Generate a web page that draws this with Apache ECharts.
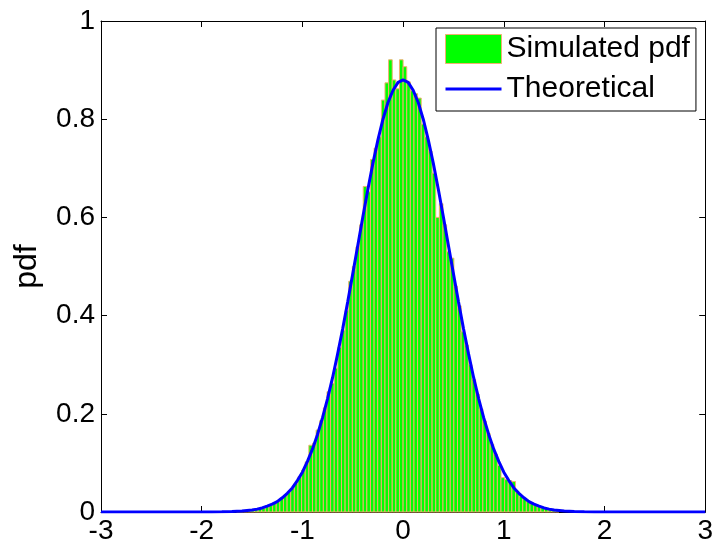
<!DOCTYPE html>
<html>
<head>
<meta charset="utf-8">
<script src="https://cdn.jsdelivr.net/npm/echarts/dist/echarts.min.js"></script>
<style>
html,body{margin:0;padding:0;background:#fff;}
#chart{width:716px;height:545px;}
</style>
</head>
<body>
<div id="chart"></div>
<script>
// Histogram bins (regular grid) and simulated pdf heights
var binStart = -1.656;
var binWidth = 0.036;
var simulatedPdf = [
  0.001, 0.002, 0.002, 0.003, 0.004, 0.005, 0.007, 0.008, 0.012, 0.013,
  0.018, 0.021, 0.028, 0.034, 0.040, 0.048, 0.058, 0.072, 0.085, 0.102,
  0.136, 0.140, 0.167, 0.186, 0.212, 0.245, 0.262, 0.293, 0.335, 0.370,
  0.410, 0.470, 0.500, 0.540, 0.585, 0.663, 0.652, 0.718, 0.741, 0.764,
  0.839, 0.874, 0.921, 0.880, 0.862, 0.921, 0.907, 0.876, 0.858, 0.852,
  0.843, 0.790, 0.764, 0.735, 0.690, 0.600, 0.628, 0.585, 0.530, 0.517,
  0.460, 0.420, 0.367, 0.340, 0.300, 0.270, 0.240, 0.210, 0.185, 0.160,
  0.138, 0.118, 0.095, 0.070, 0.066, 0.064, 0.062, 0.040, 0.032, 0.027,
  0.021, 0.017, 0.014, 0.011, 0.009, 0.007, 0.005, 0.004, 0.003
];

var curveX = [-3, -2.5, -2.0, -1.9, -1.8, -1.7, -1.6, -1.5, -1.45, -1.4, -1.35, -1.3, -1.25, -1.2, -1.15, -1.1, -1.05, -1.0,
  -0.95, -0.9, -0.85, -0.8, -0.75, -0.7, -0.65, -0.6, -0.55, -0.5, -0.45, -0.4, -0.35, -0.3, -0.25, -0.2, -0.15, -0.1, -0.05, 0,
  0.05, 0.1, 0.15, 0.2, 0.25, 0.3, 0.35, 0.4, 0.45, 0.5, 0.55, 0.6, 0.65, 0.7, 0.75, 0.8, 0.85, 0.9, 0.95,
  1.0, 1.05, 1.1, 1.15, 1.2, 1.25, 1.3, 1.35, 1.4, 1.45, 1.5, 1.6, 1.7, 1.8, 1.9, 2.0, 2.5, 3];
var curveY = [0, 0, 0.0001, 0.0002, 0.0004, 0.0009, 0.0020, 0.0041, 0.0059, 0.0083, 0.012, 0.016, 0.021, 0.029, 0.038, 0.049, 0.064, 0.081,
  0.103, 0.128, 0.158, 0.192, 0.231, 0.274, 0.322, 0.373, 0.428, 0.485, 0.543, 0.601, 0.657, 0.710, 0.758, 0.800, 0.834, 0.859, 0.875, 0.880,
  0.875, 0.859, 0.834, 0.800, 0.758, 0.710, 0.657, 0.601, 0.543, 0.485, 0.428, 0.373, 0.322, 0.274, 0.231, 0.192, 0.158, 0.128, 0.103,
  0.081, 0.064, 0.049, 0.038, 0.029, 0.021, 0.016, 0.012, 0.0083, 0.0059, 0.0041, 0.0020, 0.0009, 0.0004, 0.0002, 0.0001, 0, 0];

var xTicks = [-3, -2, -1, 0, 1, 2, 3];
var yTicks = [0, 0.2, 0.4, 0.6, 0.8, 1];

var FONT = 'Liberation Sans, Arial, sans-serif';

var histData = simulatedPdf.map(function (h, i) {
  var s = binStart + i * binWidth;
  return [s, s + binWidth, h];
});
var lineData = curveX.map(function (x, i) { return [x, curveY[i]]; });

var chart = echarts.init(document.getElementById('chart'), null, {renderer: 'canvas'});

function axisCommon() {
  return {
    axisLine: {show: true, onZero: false, lineStyle: {color: '#000', width: 1}},
    axisTick: {show: true, inside: true, length: 6, lineStyle: {color: '#000', width: 1}},
    splitLine: {show: false}
  };
}

chart.setOption({
  animation: false,
  backgroundColor: '#fff',
  grid: {left: 101, right: 8, top: 21, bottom: 33, containLabel: false},
  legend: {
    orient: 'vertical',
    left: 436,
    top: 28,
    padding: [6, 6, 7, 9],
    itemGap: 10,
    itemWidth: 56,
    itemHeight: 29,
    backgroundColor: '#fff',
    borderColor: '#000',
    borderWidth: 1,
    borderRadius: 0,
    textStyle: {fontSize: 30, fontFamily: FONT, color: '#000'},
    data: [
      {name: 'Simulated pdf', icon: 'rect', itemStyle: {color: '#00FF00', borderColor: '#F0B070', borderWidth: 1}},
      {name: 'Theoretical', icon: 'path://M0,0M0,13L56,13L56,16L0,16ZM56,29', itemStyle: {color: '#0000FF', borderWidth: 0}}
    ]
  },
  xAxis: [
    Object.assign({
      type: 'value', min: xTicks[0], max: xTicks[xTicks.length - 1], interval: 1, position: 'bottom',
      axisLabel: {fontSize: 28, fontFamily: FONT, color: '#000', margin: 5}
    }, axisCommon()),
    Object.assign({
      type: 'value', min: xTicks[0], max: xTicks[xTicks.length - 1], interval: 1, position: 'top',
      axisLabel: {show: false}
    }, axisCommon())
  ],
  yAxis: [
    Object.assign({
      type: 'value', min: yTicks[0], max: yTicks[yTicks.length - 1], interval: 0.2, position: 'left',
      name: 'pdf', nameLocation: 'middle', nameGap: 58,
      nameTextStyle: {fontSize: 32, fontFamily: FONT, color: '#000'},
      axisLabel: {fontSize: 28, fontFamily: FONT, color: '#000', margin: 6}
    }, axisCommon()),
    Object.assign({
      type: 'value', min: yTicks[0], max: yTicks[yTicks.length - 1], interval: 0.2, position: 'right',
      axisLabel: {show: false}
    }, axisCommon())
  ],
  series: [
    {
      name: 'Simulated pdf',
      type: 'custom',
      xAxisIndex: 0, yAxisIndex: 0,
      renderItem: function (params, api) {
        var p0 = api.coord([api.value(0), 0]);
        var p1 = api.coord([api.value(1), api.value(2)]);
        return {
          type: 'rect',
          shape: {x: p0[0], y: p1[1], width: p1[0] - p0[0], height: p0[1] - p1[1]},
          style: {fill: '#00FF00', stroke: '#F0B070', lineWidth: 1}
        };
      },
      encode: {x: [0, 1], y: 2},
      data: histData,
      z: 2
    },
    {
      name: 'Theoretical',
      type: 'line',
      xAxisIndex: 0, yAxisIndex: 0,
      data: lineData,
      symbol: 'none',
      smooth: false,
      lineStyle: {color: '#0000FF', width: 3},
      itemStyle: {color: '#0000FF'},
      z: 3
    }
  ]
});
</script>
</body>
</html>
